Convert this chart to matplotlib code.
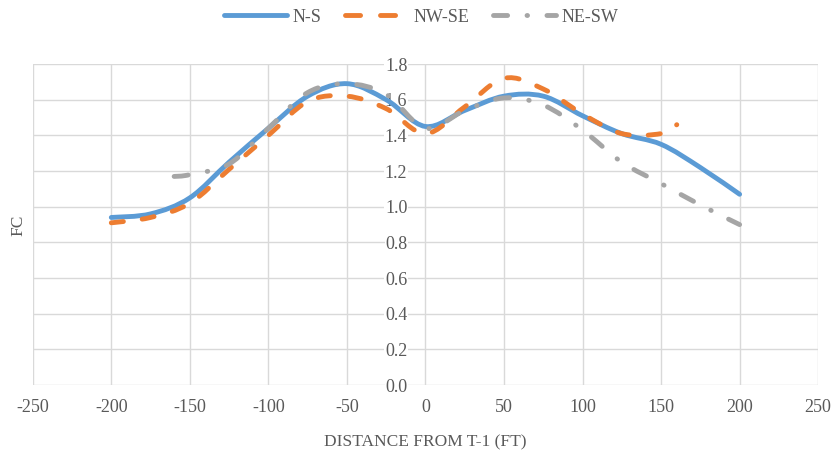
import matplotlib
matplotlib.use("Agg")
import matplotlib.pyplot as plt
from matplotlib.path import Path
from matplotlib.patches import PathPatch
from matplotlib.lines import Line2D
import numpy as np

plt.rcParams['font.family'] = ['Liberation Serif', 'DejaVu Serif']

# Distance from T-1 (ft) and FC values for each direction
ns_x = [-200, -175, -150, -125, -100, -75, -50, -25, 0, 25, 50, 75, 100, 125, 150, 175, 200]
ns_y = [0.94, 0.96, 1.05, 1.25, 1.44, 1.62, 1.69, 1.60, 1.45, 1.54, 1.62, 1.62, 1.51, 1.41, 1.35, 1.22, 1.07]

nwse_x = [-200, -175, -150, -125, -100, -75, -50, -25, 0, 25, 50, 75, 100, 125, 150, 160]
nwse_y = [0.91, 0.94, 1.02, 1.21, 1.40, 1.59, 1.62, 1.55, 1.41, 1.56, 1.72, 1.66, 1.52, 1.41, 1.41, 1.46]

nesw_x = [-160, -150, -125, -100, -75, -50, -25, 0, 25, 50, 75, 100, 125, 150, 175, 200]
nesw_y = [1.17, 1.18, 1.24, 1.44, 1.64, 1.69, 1.63, 1.44, 1.54, 1.61, 1.57, 1.43, 1.25, 1.13, 1.01, 0.90]

x_ticks = [-250, -200, -150, -100, -50, 0, 50, 100, 150, 200, 250]
y_ticks = [0.0, 0.2, 0.4, 0.6, 0.8, 1.0, 1.2, 1.4, 1.6, 1.8]

BLUE = '#5B9BD5'
ORANGE = '#ED7D31'
GREY = '#A5A5A5'
TEXT = '#595959'
GRID = '#D9D9D9'
LW = 3.5


def smooth_path(xs, ys):
    """Catmull-Rom style cubic Bezier through the points (spreadsheet smoothed line)."""
    pts = np.column_stack([xs, ys]).astype(float)
    n = len(pts)
    verts = [pts[0]]
    codes = [Path.MOVETO]
    for i in range(n - 1):
        p0 = pts[i - 1] if i > 0 else pts[i]
        p1 = pts[i]
        p2 = pts[i + 1]
        p3 = pts[i + 2] if i + 2 < n else pts[i + 1]
        c1 = p1 + (p2 - p0) / 6.0
        c2 = p2 - (p3 - p1) / 6.0
        verts += [c1, c2, p2]
        codes += [Path.CURVE4] * 3
    return Path(verts, codes)


fig = plt.figure(figsize=(8.4, 4.51), dpi=100)
ax = fig.add_axes([0.039, 0.146, 0.935, 0.712])
ax.set_xlim(-250, 250)
ax.set_ylim(0, 1.8)

ax.set_xticks(x_ticks)
ax.set_yticks(y_ticks)
ax.set_xticklabels([str(v) for v in x_ticks])
ax.set_yticklabels([f"{v:.1f}" for v in y_ticks])
ax.grid(True, color=GRID, linewidth=1.0)
ax.set_axisbelow(True)
for s in ['top', 'right', 'bottom']:
    ax.spines[s].set_visible(False)
ax.spines['left'].set_position(('data', 0))
ax.spines['left'].set_visible(False)
ax.tick_params(axis='both', length=0, labelsize=13, colors=TEXT)
ax.tick_params(axis='x', pad=10)
ax.tick_params(axis='y', pad=13)
for lab in ax.get_yticklabels():
    lab.set_bbox(dict(facecolor='white', edgecolor='none', pad=0.5))

# series, colour, dash pattern on the chart, dash pattern in the legend, name
styles = [
    (ns_x, ns_y, BLUE, None, None, 'N-S'),
    (nwse_x, nwse_y, ORANGE, (2.5, 3.9), (3.1, 4.1), 'NW-SE'),
    (nesw_x, nesw_y, GREY, (2.9, 4.0, 0.1, 4.0), (2.9, 4.0, 0.1, 4.0), 'NE-SW'),
]
handles = []
for xs, ys, col, dashes, leg_dashes, name in styles:
    patch = PathPatch(smooth_path(xs, ys), facecolor='none', edgecolor=col,
                      linewidth=LW, capstyle='round', joinstyle='round', zorder=3)
    if dashes is not None:
        patch.set_linestyle((0, dashes))
    ax.add_patch(patch)
    h = Line2D([], [], color=col, linewidth=LW, solid_capstyle='round',
               dash_capstyle='round')
    if leg_dashes is not None:
        h.set_dashes(leg_dashes)
    handles.append(h)

ax.set_xlabel('DISTANCE FROM T-1 (FT)', fontsize=12.5, color=TEXT, labelpad=13)
fig.text(0.022, 0.5, 'FC', rotation=90, fontsize=12.5, color=TEXT,
         ha='center', va='center')

fig.legend(handles, [s[5] for s in styles], loc='center', bbox_to_anchor=(0.501, 0.962),
           ncol=3, frameon=False, fontsize=13, handlelength=3.5, handletextpad=0.3,
           columnspacing=1.3, labelcolor=TEXT)

fig.savefig('out.png', dpi=100, facecolor='white')
